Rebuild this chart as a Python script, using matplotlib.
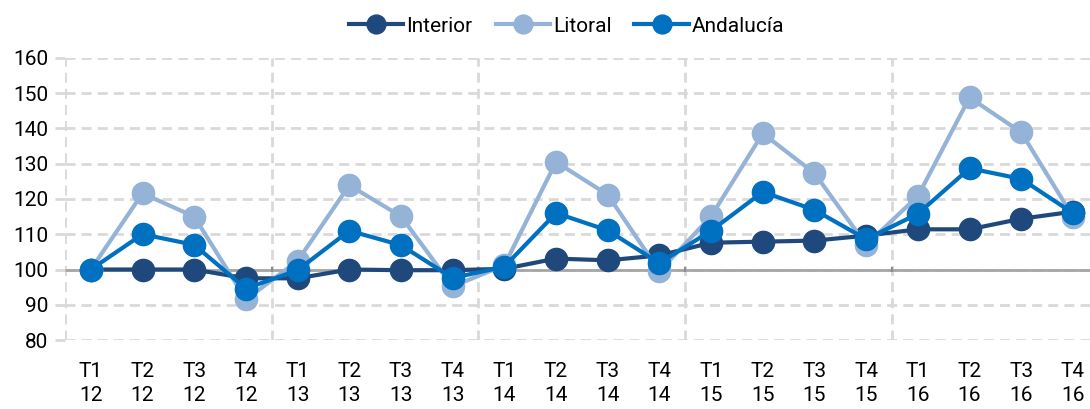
import matplotlib.pyplot as plt

# datos (indice, base 100)
trimestres = ["T1", "T2", "T3", "T4"] * 5
anios = ["12"] * 4 + ["13"] * 4 + ["14"] * 4 + ["15"] * 4 + ["16"] * 4
etiquetas = [t + "\n" + a for t, a in zip(trimestres, anios)]

interior = [100, 100, 100, 97.5, 97.5, 100, 99.8, 99.8, 100.2, 103.1,
            102.6, 104.0, 107.6, 107.9, 108.2, 109.6, 111.4, 111.4, 114.4, 116.4]
litoral = [100, 121.6, 115.0, 91.5, 102.4, 123.9, 115.1, 95.2, 101.2, 130.5,
           121.2, 99.5, 115.1, 138.6, 127.3, 107.0, 120.8, 148.8, 138.9, 115.0]
andalucia = [100, 110.0, 107.0, 94.6, 99.8, 111.0, 106.9, 97.6, 100.8, 116.0,
             111.1, 101.8, 111.0, 122.0, 116.9, 108.6, 115.8, 128.7, 125.7, 116.0]

series = [("Interior", interior, "#1F497D"),
          ("Litoral", litoral, "#95B3D7"),
          ("Andalucía", andalucia, "#0070C0")]

plt.rcParams['font.family'] = ['Roboto', 'DejaVu Sans']

fig = plt.figure(figsize=(10.9, 4.09), dpi=100)
ax = fig.add_axes([0.0596, 0.1687, 0.9404, 0.6895])

x = list(range(len(etiquetas)))

# rejilla discontinua
rejilla = dict(color="#D9D9D9", lw=2, ls=(0, (3.6, 2.2)), zorder=0)
for v in range(80, 161, 10):
    ax.axhline(v, **rejilla)
for b in [-0.5, 3.5, 7.5, 11.5, 15.5]:
    ax.axvline(b, **rejilla)

# eje horizontal en 100
ax.axhline(100, color="#A6A6A6", lw=2, zorder=1)
ax.vlines([3.5, 7.5, 11.5, 15.5], 99.2, 100.8, color="#8C8C8C", lw=1.5, zorder=1)

for i, (nombre, vals, color) in enumerate(series):
    ax.plot(x, vals, color=color, lw=3, marker="o", markersize=16,
            label=nombre, zorder=2 + i, clip_on=False)

ax.set_xlim(-0.5, 19.33)
ax.set_ylim(80, 160)
ax.set_yticks(range(80, 161, 10))
ax.set_xticks(x)
ax.set_xticklabels(etiquetas, linespacing=1.35)
ax.tick_params(axis="y", length=7, width=2, color="#D9D9D9", labelsize=15, pad=5)
ax.tick_params(axis="x", length=0, labelsize=15, pad=16)
for s in ax.spines.values():
    s.set_visible(False)

fig.legend(loc="upper center", bbox_to_anchor=(0.52, 1.005), ncol=3, frameon=False,
           fontsize=15, handlelength=2.6, columnspacing=1.1, handletextpad=0.15,
           markerscale=0.85)

plt.savefig("out.png", dpi=100)
